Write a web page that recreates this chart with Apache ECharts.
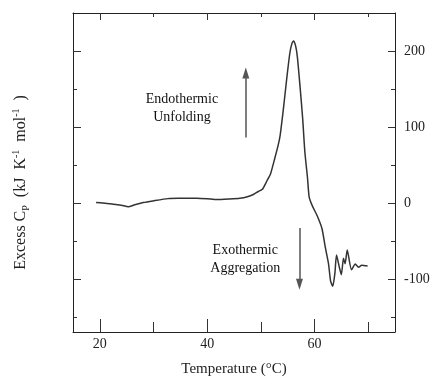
<!DOCTYPE html>
<html>
<head>
<meta charset="utf-8">
<script src="https://cdn.jsdelivr.net/npm/echarts@6/dist/echarts.min.js"></script>
<style>html,body{margin:0;padding:0;background:#fff;}#c{width:434px;height:382px;}</style>
</head>
<body>
<div id="c"></div>
<script>
// Temperature (°C)
var temps = [19.3, 20.5, 22.5, 24, 25.3, 26.5, 28.1, 29.9, 32.7, 35, 38, 40, 41.8, 44, 46.1, 47.5, 48.6, 49.5, 50.3, 51.1, 51.8, 52.6, 53.2, 53.6, 54.2, 54.8, 55.4, 55.8, 56.1, 56.5, 56.8, 57.3, 57.8, 58.2, 58.7, 59.0, 59.6, 60.5, 61.4, 62.0, 62.6, 63.0, 63.4, 63.8, 64.1, 64.6, 65.0, 65.4, 65.7, 66.1, 66.9, 67.6, 68.2, 68.8, 69.9];
// Excess Cp (kJ K-1 mol-1)
var excessCp = [0.4, 0, -1.8, -3, -5.2, -2.5, 0.4, 2.6, 5.6, 6, 6.2, 5.5, 4.3, 5, 6, 8, 11, 15, 18, 28.5, 38, 58.7, 75, 89, 123.5, 162, 197, 210, 213, 206, 192.6, 153.7, 110.6, 67.4, 32.8, 8, -3.9, -16.9, -34, -58, -79.6, -103, -109.8, -92.5, -68.7, -83.9, -94.6, -73, -80, -62.2, -88, -80.4, -84.7, -82.1, -83];

var xMajorTicks = [20, 40, 60];
var xMinorTicks = [30, 50, 70];
var yMajorTicks = [-100, 0, 100, 200];
var yMinorTicks = [-150, -50, 50, 150];

// annotation texts and their anchor positions (data units)
var noteTexts = ['Endothermic', 'Unfolding', 'Exothermic', 'Aggregation'];
var noteX = [35.3, 35.3, 47.1, 47.1];
var noteY = [136.5, 113, -63, -86.5];
// arrows: [x, yStart, yEnd]
var arrowUp = [47.2, 86, 171];
var arrowDown = [57.2, -33, -107];

var FONT = 'Liberation Serif';
var chart = echarts.init(document.getElementById('c'));
var lineCol = '#222';

function ax(kind, pos, ticks, len, showLine, extra) {
  var o = {
    type: 'value', position: pos,
    min: kind === 'x' ? 15 : -170, max: kind === 'x' ? 75 : 250,
    axisLine: {show: showLine, onZero: false, lineStyle: {color: lineCol, width: 1}},
    axisTick: {show: true, inside: true, length: len, customValues: ticks, lineStyle: {color: '#333', width: 1}},
    axisLabel: {show: false},
    splitLine: {show: false}
  };
  return Object.assign(o, extra || {});
}

var noteData = noteTexts.map(function (t, i) { return [noteX[i], noteY[i], t]; });

chart.setOption({
  animation: false,
  backgroundColor: '#fff',
  grid: {left: 73, right: 39, top: 13, bottom: 46, containLabel: false},
  xAxis: [
    ax('x', 'bottom', xMajorTicks, 13, true, {
      axisLabel: {show: true, customValues: xMajorTicks, margin: 5, color: '#222', fontFamily: FONT, fontSize: 14},
      name: 'Temperature (°C)', nameLocation: 'middle', nameGap: 30,
      nameTextStyle: {color: '#222', fontFamily: FONT, fontSize: 15}
    }),
    ax('x', 'bottom', xMinorTicks, 10, false),
    ax('x', 'top', xMajorTicks, 7, true),
    ax('x', 'top', xMinorTicks, 4, false)
  ],
  yAxis: [
    ax('y', 'left', yMajorTicks, 8, true, {
      name: 'Excess C{sub|P}  (kJ  K{sup|-1}  mol{sup|-1}  )',
      nameLocation: 'middle', nameGap: 42, nameRotate: 90,
      nameTextStyle: {color: '#222', fontFamily: FONT, fontSize: 16, lineHeight: 20, padding: [0, 20, 0, 0],
        rich: {
          sub: {fontFamily: FONT, fontSize: 10, color: '#222', verticalAlign: 'bottom', lineHeight: 20},
          sup: {fontFamily: FONT, fontSize: 10, color: '#222', verticalAlign: 'top', lineHeight: 20}
        }}
    }),
    ax('y', 'left', yMinorTicks, 4, false),
    ax('y', 'right', yMajorTicks, 7, true, {
      axisLabel: {show: true, customValues: yMajorTicks, margin: 9, color: '#222', fontFamily: FONT, fontSize: 14}
    }),
    ax('y', 'right', yMinorTicks, 4, false)
  ],
  series: [
    {
      type: 'line', xAxisIndex: 0, yAxisIndex: 0,
      data: temps.map(function (t, i) { return [t, excessCp[i]]; }),
      showSymbol: false, smooth: 0.2,
      lineStyle: {color: '#333', width: 1.5},
      markLine: {
        silent: true, symbol: ['none', 'triangle'], symbolSize: [7, 11],
        lineStyle: {color: '#555', width: 1.5, type: 'solid'},
        label: {show: false},
        data: [
          [{coord: [arrowUp[0], arrowUp[1]]}, {coord: [arrowUp[0], arrowUp[2]]}],
          [{coord: [arrowDown[0], arrowDown[1]]}, {coord: [arrowDown[0], arrowDown[2]]}]
        ]
      }
    },
    {
      type: 'scatter', xAxisIndex: 0, yAxisIndex: 0,
      data: noteData, symbolSize: 0, silent: true,
      itemStyle: {opacity: 1, color: '#000'},
      label: {show: true, position: 'inside', formatter: function (p) { return p.data[2]; },
        color: '#111', opacity: 1, fontFamily: FONT, fontSize: 14, textBorderWidth: 0}
    }
  ]
});
</script>
</body>
</html>
